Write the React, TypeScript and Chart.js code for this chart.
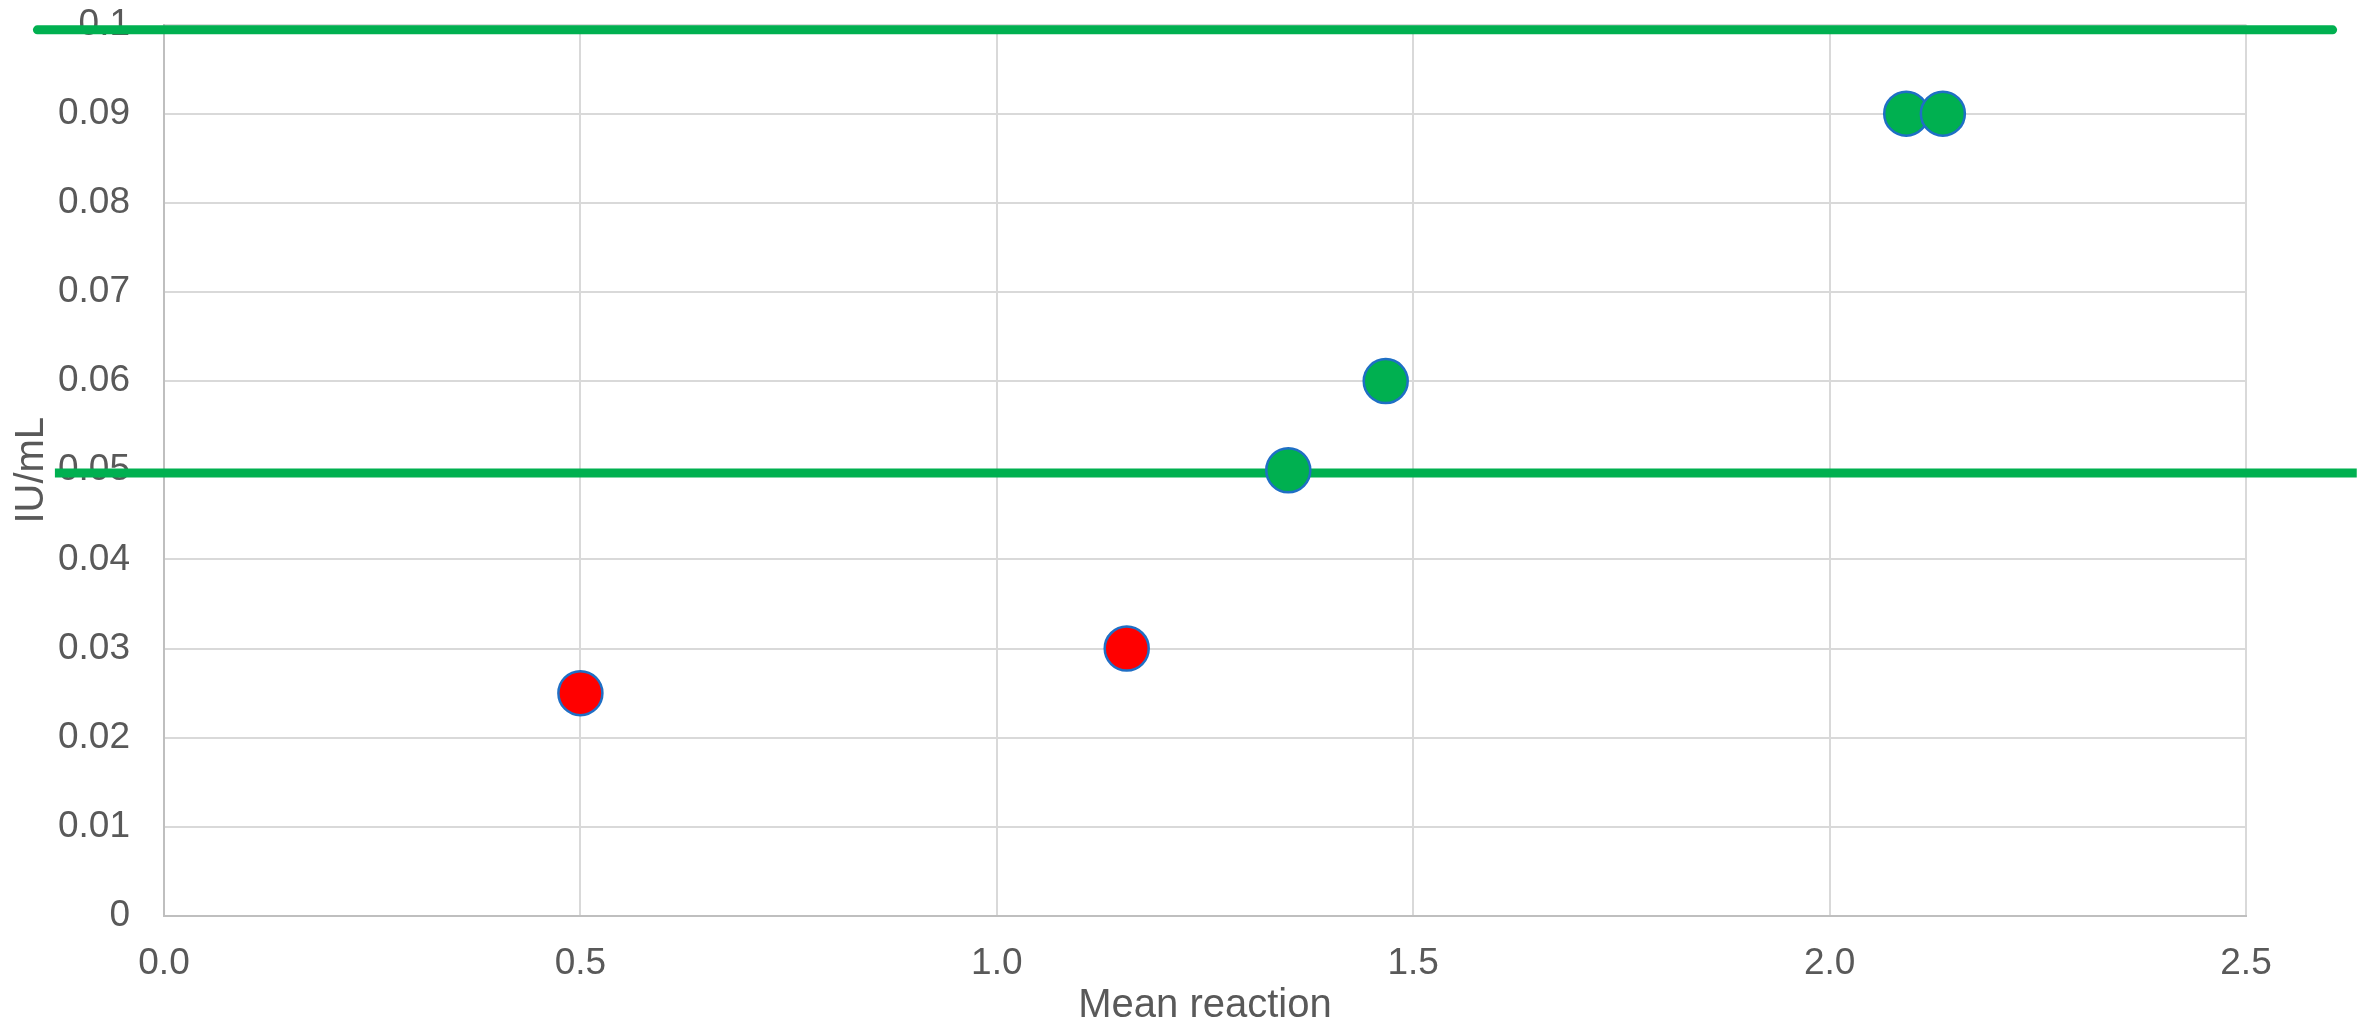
import React, { useEffect, useRef } from "react";
import { Chart, registerables } from "chart.js";

Chart.register(...registerables);

// Data
const redX = [0.5, 1.156];
const redY = [0.025, 0.03];
const greenX = [1.35, 1.467, 2.092, 2.136];
const greenY = [0.05, 0.06, 0.09, 0.09];

// Threshold lines (drawn as shapes extending past the axes), in data units
const upperLineX = [-0.152, 2.604];
const upperLineY = [0.0994, 0.0994];
const lowerLineX = [-0.131, 2.633];
const lowerLineY = [0.0497, 0.0497];

const xTickValues = [0, 0.5, 1.0, 1.5, 2.0, 2.5];
const yTickValues = [0, 0.01, 0.02, 0.03, 0.04, 0.05, 0.06, 0.07, 0.08, 0.09, 0.1];

const xTitle = "Mean reaction";
const yTitle = "IU/mL";

const toPts = (xs: number[], ys: number[]) => xs.map((x, i) => ({ x, y: ys[i] }));

const TEXT = "#595959";
const FONT = "'Liberation Sans', Arial, sans-serif";

export default function App() {
  const ref = useRef<HTMLCanvasElement | null>(null);

  useEffect(() => {
    document.body.style.margin = "0";
    document.body.style.overflow = "hidden";
    const canvas = ref.current;
    if (!canvas) return;
    const chart = new Chart(canvas, {
      type: "scatter",
      data: {
        datasets: [
          {
            label: "red",
            data: toPts(redX, redY),
            backgroundColor: "#FF0000",
            borderColor: "#1F6FC5",
            borderWidth: 2.5,
            pointRadius: 22,
            pointHoverRadius: 22,
            order: 1,
          },
          {
            label: "green",
            data: toPts(greenX, greenY),
            backgroundColor: "#00B050",
            borderColor: "#1F6FC5",
            borderWidth: 2.5,
            pointRadius: 22,
            pointHoverRadius: 22,
            order: 1,
          },
          {
            label: "upper",
            data: toPts(upperLineX, upperLineY),
            showLine: true,
            borderColor: "#00B050",
            backgroundColor: "#00B050",
            borderWidth: 9,
            borderCapStyle: "round",
            pointRadius: 0,
            clip: false as any,
            order: 2,
          } as any,
          {
            label: "lower",
            data: toPts(lowerLineX, lowerLineY),
            showLine: true,
            borderColor: "#00B050",
            backgroundColor: "#00B050",
            borderWidth: 9,
            borderCapStyle: "butt",
            pointRadius: 0,
            clip: false as any,
            order: 2,
          } as any,
        ],
      },
      options: {
        animation: false,
        responsive: false,
        maintainAspectRatio: false,
        layout: { padding: { left: 0, top: 22, right: 131, bottom: 0 } },
        plugins: {
          legend: { display: false },
          tooltip: { enabled: false },
        },
        scales: {
          x: {
            type: "linear",
            min: 0,
            max: 2.5,
            afterFit: (s: any) => {
              s.height = 110;
              s.paddingLeft = 0;
              s.paddingRight = 0;
            },
            afterBuildTicks: (s: any) => {
              s.ticks = xTickValues.map((v) => ({ value: v }));
            },
            ticks: {
              color: TEXT,
              font: { family: FONT, size: 37 },
              padding: 26,
              callback: (v: any) => Number(v).toFixed(1),
            },
            grid: { color: "#D9D9D9", lineWidth: 2, drawTicks: false },
            border: { color: "#BFBFBF", width: 2 },
            title: {
              display: true,
              text: xTitle,
              color: TEXT,
              font: { family: FONT, size: 40, lineHeight: 1 },
              padding: { top: 0, bottom: 0 },
            },
          },
          y: {
            type: "linear",
            min: 0,
            max: 0.1,
            afterFit: (s: any) => {
              s.width = 164;
              s.paddingTop = 0;
              s.paddingBottom = 0;
            },
            afterBuildTicks: (s: any) => {
              s.ticks = yTickValues.map((v) => ({ value: v }));
            },
            ticks: {
              color: TEXT,
              font: { family: FONT, size: 37 },
              padding: 34,
              callback: (v: any) => String(Number(Number(v).toFixed(2))),
            },
            grid: { color: "#D9D9D9", lineWidth: 2, drawTicks: false },
            border: { color: "#BFBFBF", width: 2 },
            title: {
              display: true,
              text: yTitle,
              color: TEXT,
              font: { family: FONT, size: 40, lineHeight: 1 },
              padding: { top: 12, bottom: 0 },
            },
          },
        },
      } as any,
    });
    return () => chart.destroy();
  }, []);

  return (
    <div style={{ width: 2377, height: 1026, background: "#fff" }}>
      <canvas ref={ref} width={2377} height={1026} style={{ display: "block", width: 2377, height: 1026 }} />
    </div>
  );
}
